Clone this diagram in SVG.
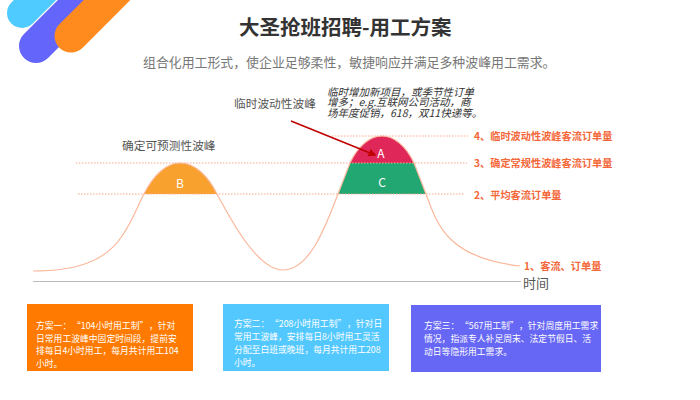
<svg xmlns="http://www.w3.org/2000/svg" width="700" height="400" viewBox="0 0 700 400">
<style>
text{font-family:"Noto Sans CJK SC","Liberation Sans",sans-serif}
.stripe{fill:none;stroke-linecap:round}
.dash{fill:none;stroke:#f9a88a;stroke-width:1;stroke-dasharray:1.5 1.5}
.lab{font-size:10.200px;font-weight:700;fill:#f4683a}
.peak{font-size:11.700px;fill:#555}
.box{font-size:8.800px;fill:#fff}
.let{font-size:12px;fill:#fff;text-anchor:middle}
.note{font-size:10.500px;font-style:italic;fill:#333}
</style>
<defs><marker id="ah" markerWidth="6" markerHeight="6" markerUnits="strokeWidth" refX="4" refY="2.500" orient="auto"><path d="M0 0L5 2.500L0 5z" fill="#c00000"/></marker></defs>
<g id="logo">
<path class="stripe" d="M22 13L50 -15" stroke="#4fcbff" stroke-width="30"/>
<path class="stripe" d="M36 46L100 -18" stroke="#6466fb" stroke-width="34"/>
<path class="stripe" d="M71 36L130 -23" stroke="#ff8a1e" stroke-width="33"/>
</g>
<g id="title">
<text x="239" y="35" font-size="20.500" font-weight="700" fill="#333">大圣抢班招聘-用工方案</text>
<text x="143" y="67" font-size="12.900" fill="#777">组合化用工形式，使企业足够柔性，敏捷响应并满足多种波峰用工需求。</text>
</g>
<g id="peak-b"><path d="M144 194C153 176 166 163 180 163C195 163 208 176 217 194Z" fill="#f9a12e"/><text class="let" x="180" y="187.500">B</text></g>
<g id="peak-a"><path d="M350 163C358 146 370 136 382 136C394 136 406 146 414 163Z" fill="#e0275a"/><text class="let" x="381" y="157.500">A</text></g>
<g id="peak-c"><path d="M350 163L414 163L426 194L338 194Z" fill="#22a672"/><text class="let" x="382" y="186.500">C</text></g>
<g id="connectors">
<path class="dash" d="M332 136H468"/>
<path class="dash" d="M76 163H467"/>
<path class="dash" d="M78 194H464"/>
<path d="M33 281.500H521" stroke="#bbb" fill="none"/>
<path d="M33 271C75 271 105 262 122 236C132 222 138 205 144 194C153 176 166 163 180 163C195 163 208 176 217 194C232 222 258 270 283 270C310 270 326 225 338 194L350 163C358 146 370 136 382 136C394 136 406 146 414 163L426 194C438 228 450 258 520 266" fill="none" stroke="#fbb89c" stroke-width="1.200"/>
<path d="M291 121L375 155" stroke="#c00000" stroke-width="1.600" fill="none" marker-end="url(#ah)"/>
</g>
<g id="peak-labels">
<text class="peak" x="234" y="108">临时波动性波峰</text>
<text class="peak" x="122" y="150">确定可预测性波峰</text>
<text class="note" x="327" y="95.500">临时增加新项目，或季节性订单</text>
<text class="note" x="327" y="106">增多；e.g.互联网公司活动，商</text>
<text class="note" x="327" y="117">场年度促销，618，双11快递等。</text>
</g>
<g id="levels">
<text class="lab" x="474" y="140">4、临时波动性波峰客流订单量</text>
<text class="lab" x="474" y="167">3、确定常规性波峰客流订单量</text>
<text class="lab" x="474" y="199">2、平均客流订单量</text>
<text class="lab" x="524" y="270">1、客流、订单量</text>
<text x="523" y="288" font-size="13" fill="#555">时间</text>
</g>
<g id="plan-1"><rect x="27" y="304" width="166" height="67" fill="#ff7a00"/>
<text class="box" x="36" y="329">方案一：<tspan x="72">“104小时用工制”</tspan><tspan x="149">，针对</tspan></text>
<text class="box" x="36" y="341.500">日常用工波峰中固定时间段，提前安</text>
<text class="box" x="36" y="354">排每日4小时用工，每月共计用工104</text>
<text class="box" x="36" y="367">小时。</text></g>
<g id="plan-2"><rect x="223" y="304" width="166" height="67" fill="#52c8ff"/>
<text class="box" x="234" y="327">方案二：<tspan x="270">“208小时用工制”</tspan><tspan x="347">，针对日</tspan></text>
<text class="box" x="234" y="340">常用工波峰，安排每日8小时用工灵活</text>
<text class="box" x="234" y="353">分配至白班或晚班，每月共计用工208</text>
<text class="box" x="234" y="366">小时。</text></g>
<g id="plan-3"><rect x="411" y="305" width="190" height="67" fill="#6767f5"/>
<text class="box" x="424" y="329">方案三：<tspan x="460">“567用工制”</tspan><tspan x="519">，针对周度用工需求</tspan></text>
<text class="box" x="424" y="342">情况，指派专人补足周末、法定节假日、活</text>
<text class="box" x="424" y="355">动日等隐形用工需求。</text></g>
</svg>
